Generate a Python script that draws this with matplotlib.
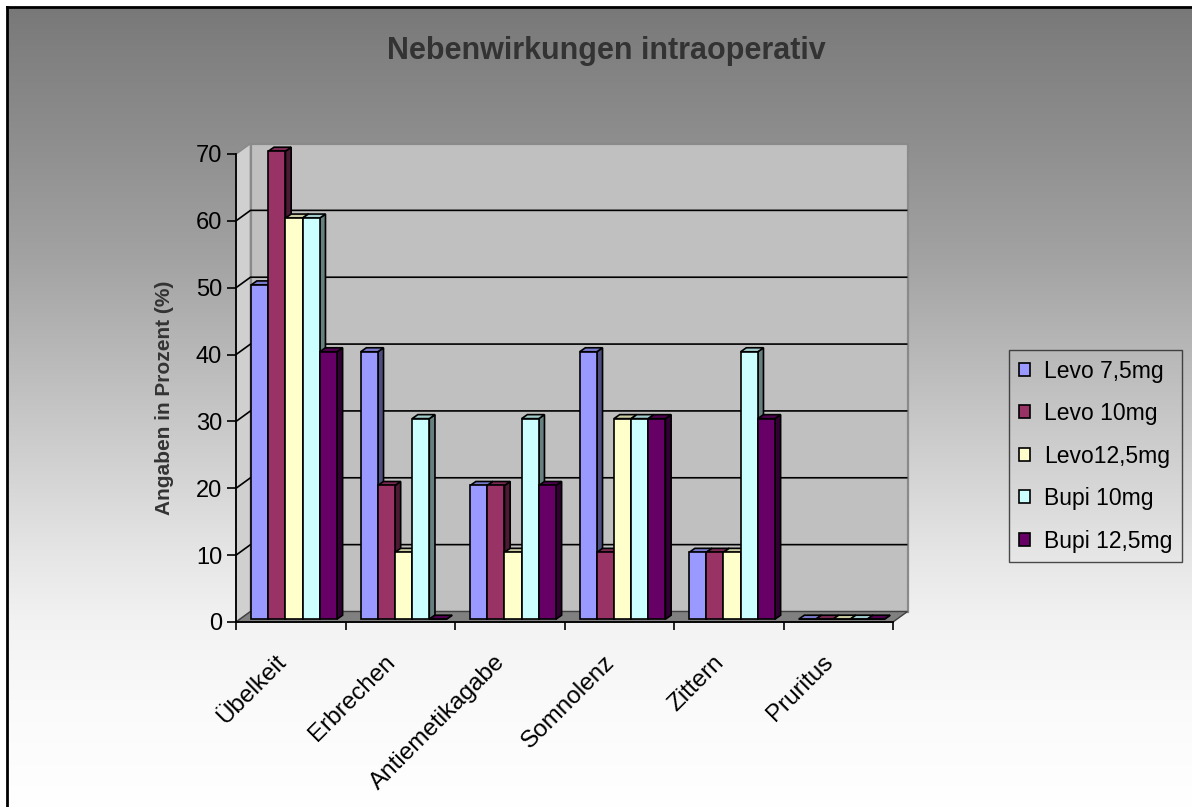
import numpy as np
import matplotlib
matplotlib.use("Agg")
import matplotlib.pyplot as plt
from matplotlib.patches import Polygon, Rectangle, Patch
from matplotlib.transforms import ScaledTranslation

plt.rcParams["font.family"] = ["Liberation Sans", "DejaVu Sans"]

# ---- data -------------------------------------------------------------
categories = ["Übelkeit", "Erbrechen", "Antiemetikagabe", "Somnolenz", "Zittern", "Pruritus"]
series_names = ["Levo 7,5mg", "Levo 10mg", "Levo12,5mg", "Bupi 10mg", "Bupi 12,5mg"]
levo_75 = [50, 40, 20, 40, 10, 0]
levo_10 = [70, 20, 20, 10, 10, 0]
levo_125 = [60, 10, 10, 30, 10, 0]
bupi_10 = [60, 30, 30, 30, 40, 0]
bupi_125 = [40, 0, 20, 30, 30, 0]
series_values = [levo_75, levo_10, levo_125, bupi_10, bupi_125]
y_ticks = [0, 10, 20, 30, 40, 50, 60, 70]
colors = ["#9999FF", "#993366", "#FFFFCC", "#CCFFFF", "#660066"]

W, H = 1192, 807
fig = plt.figure(figsize=(W / 100, H / 100), dpi=100, facecolor="white")

# ---- chart-area background: vertical grey-to-white gradient ----------
bg = fig.add_axes([7 / W, 0, 1 - 7 / W, 1 - 7 / H])
bg.set_zorder(0)
rows = np.arange(7, H)
shade = np.interp(rows, [7, 50, 140, 260, 400, 550, 620, 700, 807],
                  [120, 128, 142, 163, 195, 229, 242, 250, 255]) / 255.0
img = np.repeat(shade[:, None], 3, axis=1)[:, None, :]
bg.imshow(img, aspect="auto", extent=(0, 1, 0, 1), origin="upper", interpolation="bilinear")
bg.set_xticks([])
bg.set_yticks([])
for side in ("right", "bottom"):
    bg.spines[side].set_visible(False)
for side in ("left", "top"):
    bg.spines[side].set_linewidth(2)
    bg.spines[side].set_color("black")

# ---- plot axes (front plane of the 3-D box) ---------------------------
n_cat = len(categories)
ymax = y_ticks[-1]
ax_px = (236, 622, 657, 468)  # left, baseline, width, height in pixels
ax = fig.add_axes([ax_px[0] / W, (H - ax_px[1]) / H, ax_px[2] / W, ax_px[3] / H])
ax.set_zorder(1)
ax.set_facecolor("none")
ax.set_xlim(0, n_cat)
ax.set_ylim(0, ymax)

sx = ax_px[2] / n_cat
sy = ax_px[3] / ymax


def px_x(p):
    return p / sx


def px_y(p):
    return p / sy


# wall depth
wdx, wdy = px_x(14.5), px_y(10.5)

back = Rectangle((wdx, wdy), n_cat, ymax, facecolor="#c0c0c0", edgecolor="#8a8a8a",
                 lw=1.6, clip_on=False, zorder=1.0)
ax.add_patch(back)
left_wall = Polygon([(0, 0), (0, ymax), (wdx, ymax + wdy), (wdx, wdy)], closed=True,
                    facecolor="#d0d0d0", edgecolor="#8a8a8a", lw=1.2, clip_on=False, zorder=1.1)
ax.add_patch(left_wall)
floor = Polygon([(0, 0), (n_cat, 0), (n_cat + wdx, wdy), (wdx, wdy)], closed=True,
                facecolor="#808080", edgecolor="#404040", lw=1.0, clip_on=False, zorder=1.2)
ax.add_patch(floor)

for v in y_ticks[1:-1]:
    ax.plot([0, wdx, n_cat + wdx], [v, v + wdy, v + wdy], color="black", lw=1.2,
            clip_on=False, zorder=1.5, solid_capstyle="butt")

# ---- 3-D bars ---------------------------------------------------------
bw = px_x(17.15)
gw = bw * len(series_values)
fx, fy = px_x(3.3), px_y(2.8)
ddx, ddy = px_x(5.7), px_y(4.0)


def scale_color(c, k):
    r, g, b = matplotlib.colors.to_rgb(c)
    return (r * k, g * k, b * k)


for j, (vals, col) in enumerate(zip(series_values, colors)):
    base_z = 3 + j * 0.1
    lefts = [i + 0.5 - gw / 2 + fx + j * bw for i in range(n_cat)]
    for xl, v in zip(lefts, vals):
        xr = xl + bw
        top = v + fy
        side = Polygon([(xr, fy), (xr + ddx, fy + ddy), (xr + ddx, top + ddy), (xr, top)],
                       closed=True, facecolor=scale_color(col, 0.5), edgecolor="black",
                       lw=1.2, clip_on=False, zorder=base_z)
        lid = Polygon([(xl, top), (xr, top), (xr + ddx, top + ddy), (xl + ddx, top + ddy)],
                      closed=True, facecolor=scale_color(col, 0.8), edgecolor="black",
                      lw=1.2, clip_on=False, zorder=base_z + 0.01)
        ax.add_patch(side)
        ax.add_patch(lid)
    ax.bar(lefts, vals, width=bw, bottom=fy, align="edge", color=col, edgecolor="black",
           lw=1.2, zorder=base_z + 0.02, clip_on=False)

# ---- axes lines, ticks and labels ------------------------------------
for side in ("top", "right"):
    ax.spines[side].set_visible(False)
for side in ("left", "bottom"):
    ax.spines[side].set_linewidth(1.3)
    ax.spines[side].set_color("black")

ax.set_yticks(y_ticks)
ax.tick_params(axis="y", length=6.5, width=1.2, pad=3.5, labelsize=17, direction="out")
ax.set_xticks(range(n_cat + 1))
ax.set_xticklabels([])
ax.tick_params(axis="x", length=6, width=1.2, direction="out")

label_shift = ax.transData + ScaledTranslation(-4 / 100, -41 / 100, fig.dpi_scale_trans)
for i, name in enumerate(categories):
    ax.text(i + 0.5, 0, name, transform=label_shift, rotation=45, ha="right",
            va="baseline", rotation_mode="anchor", fontsize=17.5, color="black")

fig.text(606.7 / W, 1 - 59.5 / H, "Nebenwirkungen intraoperativ", ha="center",
         va="baseline", fontsize=22, fontweight="bold", color="#333333")
fig.text(165 / W, 1 - 397.5 / H, "Angaben in Prozent (%)", rotation=90, ha="center",
         va="center", fontsize=15, fontweight="bold", color="#333333")

handles = [Patch(facecolor=c, edgecolor="black", lw=1.2) for c in colors]
leg = fig.legend(handles, series_names, loc="upper left",
                 bbox_to_anchor=(1009 / W, 1 - 350 / H), borderaxespad=0,
                 fontsize=16.5, frameon=True, fancybox=False, edgecolor="#222222",
                 facecolor="none", handlelength=0.5, handleheight=0.5,
                 handletextpad=0.6, labelspacing=0.85, borderpad=0.42)
leg.get_frame().set_linewidth(1.0)

fig.savefig("out.png", dpi=100, facecolor="white")
